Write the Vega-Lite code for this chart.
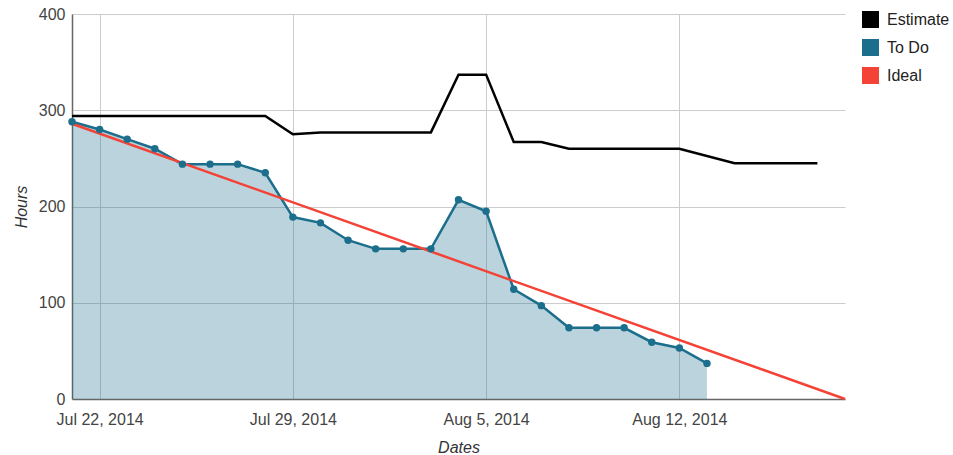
{
  "$schema": "https://vega.github.io/schema/vega-lite/v6.json",
  "width": 773,
  "height": 385,
  "autosize": {"type": "none"},
  "padding": {"left": 72, "top": 14, "right": 108, "bottom": 56},
  "background": "white",
  "config": {
    "view": {"stroke": null},
    "font": "Liberation Sans",
    "axis": {
      "labelFont": "Liberation Sans",
      "labelFontSize": 16,
      "labelColor": "#444444",
      "titleFont": "Liberation Sans",
      "titleFontSize": 16,
      "titleFontStyle": "italic",
      "titleFontWeight": "normal",
      "titleColor": "#333333",
      "gridColor": "#cccccc",
      "gridWidth": 1,
      "domainColor": "#666666",
      "domainWidth": 1.5,
      "ticks": false
    },
    "legend": {
      "labelFont": "Liberation Sans",
      "labelFontSize": 16,
      "labelColor": "#222222"
    }
  },
  "data": {
    "values": [
      {"date": "2014-07-21", "series": "To Do", "value": 288},
      {"date": "2014-07-22", "series": "To Do", "value": 280},
      {"date": "2014-07-23", "series": "To Do", "value": 270},
      {"date": "2014-07-24", "series": "To Do", "value": 260},
      {"date": "2014-07-25", "series": "To Do", "value": 244},
      {"date": "2014-07-26", "series": "To Do", "value": 244},
      {"date": "2014-07-27", "series": "To Do", "value": 244},
      {"date": "2014-07-28", "series": "To Do", "value": 235},
      {"date": "2014-07-29", "series": "To Do", "value": 189},
      {"date": "2014-07-30", "series": "To Do", "value": 183},
      {"date": "2014-07-31", "series": "To Do", "value": 165},
      {"date": "2014-08-01", "series": "To Do", "value": 156},
      {"date": "2014-08-02", "series": "To Do", "value": 156},
      {"date": "2014-08-03", "series": "To Do", "value": 156},
      {"date": "2014-08-04", "series": "To Do", "value": 207},
      {"date": "2014-08-05", "series": "To Do", "value": 195},
      {"date": "2014-08-06", "series": "To Do", "value": 114},
      {"date": "2014-08-07", "series": "To Do", "value": 97},
      {"date": "2014-08-08", "series": "To Do", "value": 74},
      {"date": "2014-08-09", "series": "To Do", "value": 74},
      {"date": "2014-08-10", "series": "To Do", "value": 74},
      {"date": "2014-08-11", "series": "To Do", "value": 59},
      {"date": "2014-08-12", "series": "To Do", "value": 53},
      {"date": "2014-08-13", "series": "To Do", "value": 37},
      {"date": "2014-07-21", "series": "Estimate", "value": 294},
      {"date": "2014-07-28", "series": "Estimate", "value": 294},
      {"date": "2014-07-29", "series": "Estimate", "value": 275},
      {"date": "2014-07-30", "series": "Estimate", "value": 277},
      {"date": "2014-08-03", "series": "Estimate", "value": 277},
      {"date": "2014-08-04", "series": "Estimate", "value": 337},
      {"date": "2014-08-05", "series": "Estimate", "value": 337},
      {"date": "2014-08-06", "series": "Estimate", "value": 267},
      {"date": "2014-08-07", "series": "Estimate", "value": 267},
      {"date": "2014-08-08", "series": "Estimate", "value": 260},
      {"date": "2014-08-12", "series": "Estimate", "value": 260},
      {"date": "2014-08-14", "series": "Estimate", "value": 245},
      {"date": "2014-08-17", "series": "Estimate", "value": 245},
      {"date": "2014-07-21", "series": "Ideal", "value": 286},
      {"date": "2014-08-18", "series": "Ideal", "value": 0}
    ]
  },
  "encoding": {
    "x": {
      "field": "date",
      "type": "temporal",
      "title": "Dates",
      "scale": {
        "type": "utc",
        "domain": [
          {"year": 2014, "month": 7, "date": 21, "utc": true},
          {"year": 2014, "month": 8, "date": 18, "utc": true}
        ]
      },
      "axis": {
        "values": [
          {"year": 2014, "month": 7, "date": 22, "utc": true},
          {"year": 2014, "month": 7, "date": 29, "utc": true},
          {"year": 2014, "month": 8, "date": 5, "utc": true},
          {"year": 2014, "month": 8, "date": 12, "utc": true}
        ],
        "labelExpr": "utcFormat(datum.value, '%b %-d, %Y')",
        "labelPadding": 12,
        "titlePadding": 12
      }
    },
    "y": {
      "field": "value",
      "type": "quantitative",
      "title": "Hours",
      "scale": {"domain": [0, 400], "nice": false},
      "axis": {"values": [0, 100, 200, 300, 400], "labelPadding": 7, "titlePadding": 9}
    }
  },
  "layer": [
    {
      "transform": [{"filter": "datum.series === 'To Do'"}],
      "mark": {"type": "area", "color": "#1b6e8c", "opacity": 0.3}
    },
    {
      "mark": {"type": "line", "strokeWidth": 2.5},
      "encoding": {
        "color": {
          "field": "series",
          "type": "nominal",
          "scale": {
            "domain": ["Estimate", "To Do", "Ideal"],
            "range": ["#000000", "#1b6e8c", "#f44336"]
          },
          "legend": {
            "title": null,
            "orient": "none",
            "legendX": 790,
            "legendY": -3,
            "symbolType": "square",
            "symbolSize": 289,
            "symbolStrokeWidth": 0,
            "symbolOpacity": 1,
            "labelOffset": 8,
            "rowPadding": 11,
            "encode": {
              "symbols": {
                "update": {
                  "fill": {"scale": "color", "field": "value"},
                  "fillOpacity": {"value": 1},
                  "strokeWidth": {"value": 0}
                }
              }
            }
          }
        },
        "strokeWidth": {
          "condition": {"test": "datum.series === 'To Do'", "value": 1.2},
          "value": 2.5
        }
      }
    },
    {
      "transform": [{"filter": "datum.series === 'To Do'"}],
      "mark": {"type": "point", "filled": true, "size": 55, "opacity": 1, "color": "#1b6e8c"}
    }
  ]
}
